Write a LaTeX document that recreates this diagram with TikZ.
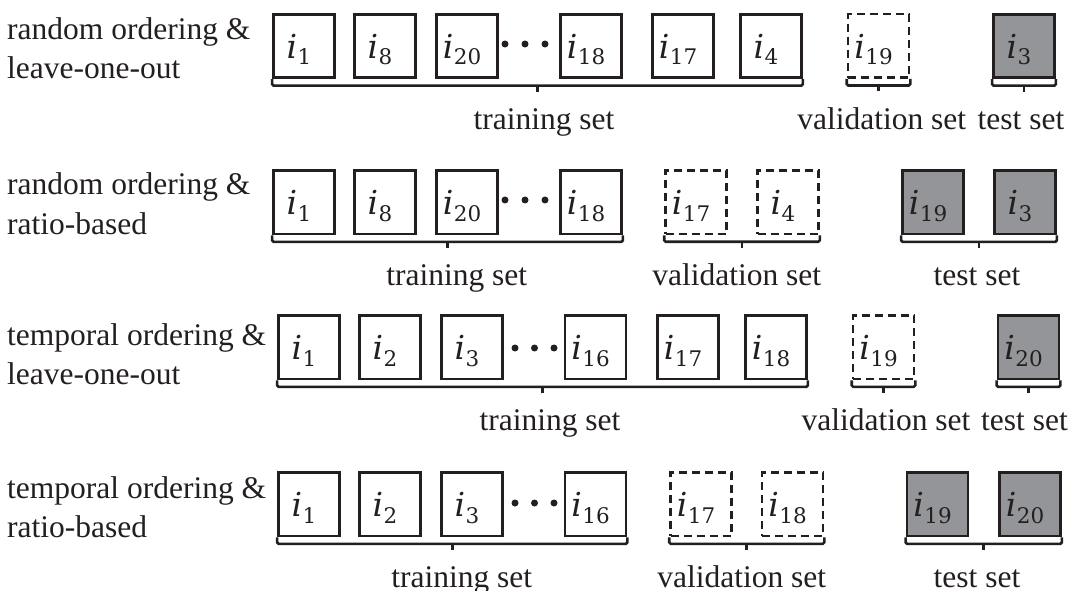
\documentclass[tikz,border=0pt]{standalone}
\usepackage{fontspec}
\setmainfont{Liberation Serif}
\newfontfamily\cellfont{DejaVu Serif}
\usetikzlibrary{calc}
\definecolor{ink}{RGB}{35,31,32}
\definecolor{testgray}{RGB}{147,149,152}
\tikzset{
  cellbase/.style={line width=2.8pt, minimum width=61pt, minimum height=63.5pt, inner sep=0pt,
    text height=25pt, text depth=0pt, text=ink, font=\cellfont\fontsize{33}{36}\selectfont},
  trn/.style={cellbase, draw=ink},
  val/.style={cellbase, draw=ink, line width=2.6pt, dash pattern=on 8pt off 5pt},
  tst/.style={cellbase, draw=ink, fill=testgray},
  brc/.style={draw=ink, line width=2.6pt, rounded corners=1.5pt},
  lab/.style={text=ink, inner sep=0pt, font=\fontsize{31.5}{38}\selectfont},
  dot/.style={circle, fill=ink, inner sep=0pt, minimum size=7pt}
}
\newcommand\ivar[1]{{\itshape i}\kern0.5pt\raisebox{-6.5pt}{\fontsize{21.5}{24}\selectfont #1}}
\newcommand\mkcell[5]{\node[#1] (#2) at ({#3+32},{#4+33.25}) {\ivar{#5}\kern10pt};}
\newcommand\mkgrp[2]{%
  \draw[brc] (#1.south west) |- ($(#2.south east)+(0,6.5)$) -- (#2.south east);
  \draw[brc] ($(#1.south west)!0.5!(#2.south east)+(0,6.5)$) -- ++(0,6);}
\begin{document}
\begin{tikzpicture}[x=1pt,y=-1pt]
\useasboundingbox (0,0) rectangle (1080,591);
% ---------- row 1 ----------
\node[lab, anchor=base west] (r1a) at (7,40) {random ordering \&};
\node[lab, anchor=base west] (r1b) at (7,78.5) {leave-one-out};
\mkcell{trn}{a1}{272}{12.7}{1}
\mkcell{trn}{a2}{353}{12.7}{8}
\mkcell{trn}{a3}{435}{12.7}{20}
\mkcell{trn}{a4}{559}{12.7}{18}
\mkcell{trn}{a5}{651}{12.7}{17}
\mkcell{trn}{a6}{739}{12.7}{4}
\mkcell{val}{a7}{846.5}{12.7}{19}
\mkcell{tst}{a8}{992}{12.7}{3}
\node[dot] (ad1) at (505,44) {};
\node[dot] (ad2) at (525,44) {};
\node[dot] (ad3) at (545,44) {};
\mkgrp{a1}{a6}
\mkgrp{a7}{a7}
\mkgrp{a8}{a8}
\node[lab, anchor=base] (at) at (544,130) {training set};
\node[lab, anchor=base] (av) at (881.7,130) {validation set};
\node[lab, anchor=base] (ae) at (1021,130) {test set};
% ---------- row 2 ----------
\node[lab, anchor=base west] (r2a) at (7,195) {random ordering \&};
\node[lab, anchor=base west] (r2b) at (7,234) {ratio-based};
\mkcell{trn}{b1}{272}{169}{1}
\mkcell{trn}{b2}{353}{169}{8}
\mkcell{trn}{b3}{435}{169}{20}
\mkcell{trn}{b4}{559}{169}{18}
\mkcell{val}{b5}{664}{169}{17}
\mkcell{val}{b6}{756}{169}{4}
\mkcell{tst}{b7}{901}{169}{19}
\mkcell{tst}{b8}{993}{169}{3}
\node[dot] (bd1) at (505,200) {};
\node[dot] (bd2) at (525,200) {};
\node[dot] (bd3) at (545,200) {};
\mkgrp{b1}{b4}
\mkgrp{b5}{b6}
\mkgrp{b7}{b8}
\node[lab, anchor=base] (bt) at (456.7,285) {training set};
\node[lab, anchor=base] (bv) at (736.7,285) {validation set};
\node[lab, anchor=base] (be) at (977,285) {test set};
% ---------- row 3 ----------
\node[lab, anchor=base west] (r3a) at (7,345) {temporal ordering \&};
\node[lab, anchor=base west] (r3b) at (7,384) {leave-one-out};
\mkcell{trn}{c1}{277}{314}{1}
\mkcell{trn}{c2}{358}{314}{2}
\mkcell{trn}{c3}{440}{314}{3}
\mkcell{trn}{c4}{563.5}{314}{16}
\mkcell{trn}{c5}{656}{314}{17}
\mkcell{trn}{c6}{744}{314}{18}
\mkcell{val}{c7}{851.5}{314}{19}
\mkcell{tst}{c8}{996.5}{314}{20}
\node[dot] (cd1) at (515,348) {};
\node[dot] (cd2) at (534.5,348) {};
\node[dot] (cd3) at (554,348) {};
\mkgrp{c1}{c6}
\mkgrp{c7}{c7}
\mkgrp{c8}{c8}
\node[lab, anchor=base] (ct) at (550,430) {training set};
\node[lab, anchor=base] (cv) at (886,430) {validation set};
\node[lab, anchor=base] (ce) at (1024.5,430) {test set};
% ---------- row 4 ----------
\node[lab, anchor=base west] (r4a) at (7,498) {temporal ordering \&};
\node[lab, anchor=base west] (r4b) at (7,537.5) {ratio-based};
\mkcell{trn}{d1}{277}{471}{1}
\mkcell{trn}{d2}{358}{471}{2}
\mkcell{trn}{d3}{440}{471}{3}
\mkcell{trn}{d4}{563.5}{471}{16}
\mkcell{val}{d5}{669}{471}{17}
\mkcell{val}{d6}{760.5}{471}{18}
\mkcell{tst}{d7}{905.5}{471}{19}
\mkcell{tst}{d8}{998}{471}{20}
\node[dot] (dd1) at (515,503) {};
\node[dot] (dd2) at (534.5,503) {};
\node[dot] (dd3) at (554,503) {};
\mkgrp{d1}{d4}
\mkgrp{d5}{d6}
\mkgrp{d7}{d8}
\node[lab, anchor=base] (dt) at (461.7,587) {training set};
\node[lab, anchor=base] (dv) at (741.7,587) {validation set};
\node[lab, anchor=base] (de) at (977,587) {test set};
\end{tikzpicture}
\end{document}
